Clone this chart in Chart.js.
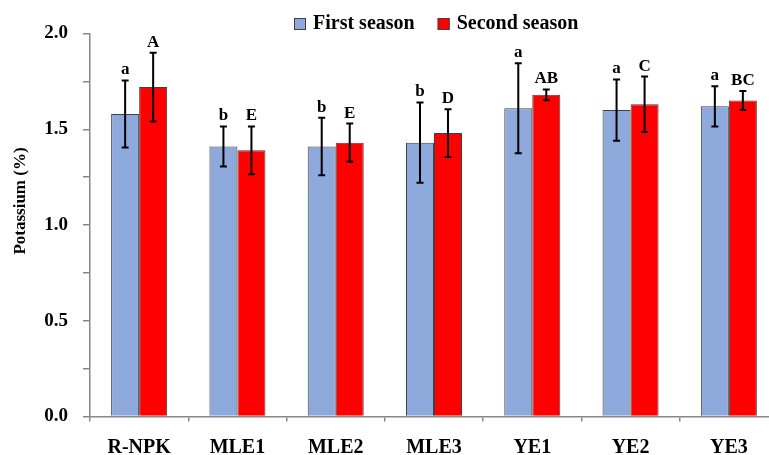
<!DOCTYPE html>
<html>
<head>
<meta charset="utf-8">
<script src="https://cdn.jsdelivr.net/npm/chart.js@4/dist/chart.umd.min.js"></script>
<style>
    html, body { margin: 0; padding: 0; background: #fff; overflow: hidden; }
    #wrap { width: 780px; height: 455px; }
</style>
</head>
<body>
<div id="wrap"><canvas id="potassiumChart" width="780" height="455"></canvas></div>
<script>
// Treatments and seasonal means (%), with error (+/-) and letter groups
const treatments = ['R-NPK', 'MLE1', 'MLE2', 'MLE3', 'YE1', 'YE2', 'YE3'];
const firstSeason = [1.58, 1.41, 1.41, 1.43, 1.61, 1.60, 1.62];
const firstSeasonErr = [0.175, 0.105, 0.15, 0.21, 0.235, 0.16, 0.105];
const secondSeason = [1.72, 1.39, 1.43, 1.48, 1.68, 1.63, 1.65];
const secondSeasonErr = [0.18, 0.125, 0.10, 0.125, 0.028, 0.145, 0.05];
const firstLetters = ['a', 'b', 'b', 'b', 'a', 'a', 'a'];
const secondLetters = ['A', 'E', 'E', 'D', 'AB', 'C', 'BC'];
const yTicks = [0, 0.5, 1.0, 1.5, 2.0];

const SERIF = "'Liberation Serif', 'Times New Roman', serif";
const AXIS_GREY = '#878787';

// error bars + significance letters on top of the bars
const errorBarPlugin = {
    id: 'errorBars',
    afterDatasetsDraw(chart) {
        const ctx = chart.ctx;
        const yScale = chart.scales.y;
        ctx.save();
        chart.data.datasets.forEach((ds, di) => {
            const meta = chart.getDatasetMeta(di);
            meta.data.forEach((bar, i) => {
                const v = ds.data[i];
                const e = ds.errors[i];
                const top = yScale.getPixelForValue(v + e);
                const bottom = yScale.getPixelForValue(v - e);
                ctx.strokeStyle = '#000';
                ctx.lineWidth = 2;
                ctx.beginPath();
                ctx.moveTo(bar.x, top);
                ctx.lineTo(bar.x, bottom);
                ctx.moveTo(bar.x - 3.5, top);
                ctx.lineTo(bar.x + 3.5, top);
                ctx.moveTo(bar.x - 3.5, bottom);
                ctx.lineTo(bar.x + 3.5, bottom);
                ctx.stroke();

                ctx.fillStyle = '#000';
                ctx.font = 'bold 17px ' + SERIF;
                ctx.textAlign = 'center';
                ctx.textBaseline = 'alphabetic';
                ctx.fillText(ds.letters[i], bar.x, top - 6);
            });
        });
        ctx.restore();
    }
};

// legend and y title drawn by hand to get the spacing of the original
const legendPlugin = {
    id: 'manualLegend',
    afterDraw(chart) {
        const ctx = chart.ctx;
        ctx.save();
        ctx.font = 'bold 20px ' + SERIF;
        ctx.textBaseline = 'middle';
        ctx.textAlign = 'left';
        let x = 294;
        const y = 24;
        chart.data.datasets.forEach((ds) => {
            ctx.fillStyle = ds.backgroundColor;
            ctx.fillRect(x, y - 6, 12, 12);
            ctx.strokeStyle = '#404040';
            ctx.lineWidth = 1;
            ctx.strokeRect(x + 0.5, y - 5.5, 11, 11);
            ctx.fillStyle = '#000';
            ctx.fillText(ds.label, x + 19, y);
            x += 19 + ctx.measureText(ds.label).width + 23;
        });

        ctx.translate(21, 201);
        ctx.rotate(-Math.PI / 2);
        ctx.textAlign = 'center';
        ctx.font = 'bold 17px ' + SERIF;
        ctx.fillText('Potassium (%)', 0, 0);
        ctx.restore();
    }
};

const chart = new Chart(document.getElementById('potassiumChart'), {
    type: 'bar',
    data: {
        labels: treatments,
        datasets: [
            {
                label: 'First season',
                data: firstSeason,
                errors: firstSeasonErr,
                letters: firstLetters,
                backgroundColor: '#8EA9DB',
                borderColor: '#404040',
                borderWidth: 1
            },
            {
                label: 'Second season',
                data: secondSeason,
                errors: secondSeasonErr,
                letters: secondLetters,
                backgroundColor: '#FF0000',
                borderColor: '#404040',
                borderWidth: 1
            }
        ]
    },
    options: {
        responsive: false,
        animation: false,
        devicePixelRatio: 1,
        layout: {
            padding: { top: 33.5, right: 2, bottom: 0, left: 0 }
        },
        datasets: {
            bar: {
                categoryPercentage: 0.57,
                barPercentage: 1.0
            }
        },
        scales: {
            x: {
                grid: {
                    offset: true,
                    drawOnChartArea: false,
                    drawTicks: true,
                    tickLength: 5,
                    color: AXIS_GREY,
                    lineWidth: 1.5
                },
                border: { color: AXIS_GREY, width: 1.5 },
                ticks: {
                    color: '#000',
                    padding: 14,
                    font: { family: SERIF, size: 20, weight: 'bold' }
                },
                afterFit(scale) { scale.height = 38.5; }
            },
            y: {
                min: 0,
                max: 2.0,
                grid: {
                    drawOnChartArea: false,
                    drawTicks: true,
                    tickLength: 7,
                    color: AXIS_GREY,
                    lineWidth: 1.5
                },
                border: { color: AXIS_GREY, width: 1.5 },
                ticks: {
                    stepSize: 0.25,
                    color: '#000',
                    padding: 15,
                    font: { family: SERIF, size: 19, weight: 'bold' },
                    callback: (value) => yTicks.includes(value) ? value.toFixed(1) : ''
                },
                afterFit(scale) { scale.width = 90; }
            }
        },
        plugins: {
            legend: { display: false },
            tooltip: { enabled: false }
        }
    },
    plugins: [errorBarPlugin, legendPlugin]
});
</script>
</body>
</html>
